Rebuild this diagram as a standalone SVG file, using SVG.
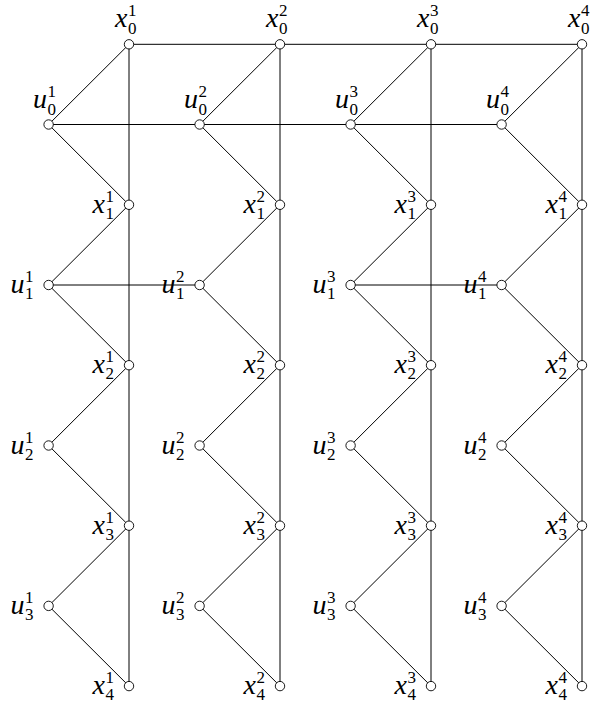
<svg xmlns="http://www.w3.org/2000/svg" width="594" height="704" viewBox="0 0 594 704">
<style>
.e{stroke:#000;stroke-width:1;fill:none}
.n{fill:#fff;stroke:#000;stroke-width:0.9}
</style>
<defs>
<circle id="c" r="4.7" class="n"/>
</defs>
<g id="connectors">
<line class="e" x1="129" y1="44.3" x2="582" y2="44.3"/>
<line class="e" x1="48.6" y1="124.5" x2="501.6" y2="124.5"/>
<line class="e" x1="48.6" y1="285" x2="199.6" y2="285"/>
<line class="e" x1="350.6" y1="285" x2="501.6" y2="285"/>
<line class="e" x1="129" y1="44.3" x2="129" y2="686.1"/>
<line class="e" x1="280" y1="44.3" x2="280" y2="686.1"/>
<line class="e" x1="431" y1="44.3" x2="431" y2="686.1"/>
<line class="e" x1="582" y1="44.3" x2="582" y2="686.1"/>
<polyline class="e" points="129,44.3 48.6,124.5 129,204.8 48.6,285 129,365.2 48.6,445.5 129,525.7 48.6,605.9 129,686.1"/>
<polyline class="e" points="280,44.3 199.6,124.5 280,204.8 199.6,285 280,365.2 199.6,445.5 280,525.7 199.6,605.9 280,686.1"/>
<polyline class="e" points="431,44.3 350.6,124.5 431,204.8 350.6,285 431,365.2 350.6,445.5 431,525.7 350.6,605.9 431,686.1"/>
<polyline class="e" points="582,44.3 501.6,124.5 582,204.8 501.6,285 582,365.2 501.6,445.5 582,525.7 501.6,605.9 582,686.1"/>
</g>
<g id="nodes" font-family="Liberation Serif, serif" fill="#000">
<g id="x0_1"><use href="#c" x="129" y="44.3"/><text font-size="28" font-style="italic" x="127.5" y="27.3" text-anchor="end">x</text><text font-size="17" x="128" y="16.3">1</text><text font-size="17" x="128" y="33.8">0</text></g>
<g id="u0_1"><use href="#c" x="48.6" y="124.5"/><text font-size="28" font-style="italic" x="47.1" y="108" text-anchor="end">u</text><text font-size="17" x="47.6" y="97">1</text><text font-size="17" x="47.6" y="114.5">0</text></g>
<g id="x1_1"><use href="#c" x="129" y="204.8"/><text font-size="28" font-style="italic" x="105" y="212.8" text-anchor="end">x</text><text font-size="17" x="105.5" y="201.8">1</text><text font-size="17" x="105.5" y="219">1</text></g>
<g id="u1_1"><use href="#c" x="48.6" y="285"/><text font-size="28" font-style="italic" x="24.6" y="293" text-anchor="end">u</text><text font-size="17" x="25.1" y="282">1</text><text font-size="17" x="25.1" y="299.2">1</text></g>
<g id="x2_1"><use href="#c" x="129" y="365.2"/><text font-size="28" font-style="italic" x="105" y="373.2" text-anchor="end">x</text><text font-size="17" x="105.5" y="362.2">1</text><text font-size="17" x="105.5" y="379.4">2</text></g>
<g id="u2_1"><use href="#c" x="48.6" y="445.5"/><text font-size="28" font-style="italic" x="24.6" y="453.5" text-anchor="end">u</text><text font-size="17" x="25.1" y="442.5">1</text><text font-size="17" x="25.1" y="459.7">2</text></g>
<g id="x3_1"><use href="#c" x="129" y="525.7"/><text font-size="28" font-style="italic" x="105" y="533.7" text-anchor="end">x</text><text font-size="17" x="105.5" y="522.7">1</text><text font-size="17" x="105.5" y="539.9">3</text></g>
<g id="u3_1"><use href="#c" x="48.6" y="605.9"/><text font-size="28" font-style="italic" x="24.6" y="613.9" text-anchor="end">u</text><text font-size="17" x="25.1" y="602.9">1</text><text font-size="17" x="25.1" y="620.1">3</text></g>
<g id="x4_1"><use href="#c" x="129" y="686.1"/><text font-size="28" font-style="italic" x="105" y="694.1" text-anchor="end">x</text><text font-size="17" x="105.5" y="683.1">1</text><text font-size="17" x="105.5" y="700.3">4</text></g>
<g id="x0_2"><use href="#c" x="280" y="44.3"/><text font-size="28" font-style="italic" x="278.5" y="27.3" text-anchor="end">x</text><text font-size="17" x="279" y="16.3">2</text><text font-size="17" x="279" y="33.8">0</text></g>
<g id="u0_2"><use href="#c" x="199.6" y="124.5"/><text font-size="28" font-style="italic" x="198.1" y="108" text-anchor="end">u</text><text font-size="17" x="198.6" y="97">2</text><text font-size="17" x="198.6" y="114.5">0</text></g>
<g id="x1_2"><use href="#c" x="280" y="204.8"/><text font-size="28" font-style="italic" x="256" y="212.8" text-anchor="end">x</text><text font-size="17" x="256.5" y="201.8">2</text><text font-size="17" x="256.5" y="219">1</text></g>
<g id="u1_2"><use href="#c" x="199.6" y="285"/><text font-size="28" font-style="italic" x="175.6" y="293" text-anchor="end">u</text><text font-size="17" x="176.1" y="282">2</text><text font-size="17" x="176.1" y="299.2">1</text></g>
<g id="x2_2"><use href="#c" x="280" y="365.2"/><text font-size="28" font-style="italic" x="256" y="373.2" text-anchor="end">x</text><text font-size="17" x="256.5" y="362.2">2</text><text font-size="17" x="256.5" y="379.4">2</text></g>
<g id="u2_2"><use href="#c" x="199.6" y="445.5"/><text font-size="28" font-style="italic" x="175.6" y="453.5" text-anchor="end">u</text><text font-size="17" x="176.1" y="442.5">2</text><text font-size="17" x="176.1" y="459.7">2</text></g>
<g id="x3_2"><use href="#c" x="280" y="525.7"/><text font-size="28" font-style="italic" x="256" y="533.7" text-anchor="end">x</text><text font-size="17" x="256.5" y="522.7">2</text><text font-size="17" x="256.5" y="539.9">3</text></g>
<g id="u3_2"><use href="#c" x="199.6" y="605.9"/><text font-size="28" font-style="italic" x="175.6" y="613.9" text-anchor="end">u</text><text font-size="17" x="176.1" y="602.9">2</text><text font-size="17" x="176.1" y="620.1">3</text></g>
<g id="x4_2"><use href="#c" x="280" y="686.1"/><text font-size="28" font-style="italic" x="256" y="694.1" text-anchor="end">x</text><text font-size="17" x="256.5" y="683.1">2</text><text font-size="17" x="256.5" y="700.3">4</text></g>
<g id="x0_3"><use href="#c" x="431" y="44.3"/><text font-size="28" font-style="italic" x="429.5" y="27.3" text-anchor="end">x</text><text font-size="17" x="430" y="16.3">3</text><text font-size="17" x="430" y="33.8">0</text></g>
<g id="u0_3"><use href="#c" x="350.6" y="124.5"/><text font-size="28" font-style="italic" x="349.1" y="108" text-anchor="end">u</text><text font-size="17" x="349.6" y="97">3</text><text font-size="17" x="349.6" y="114.5">0</text></g>
<g id="x1_3"><use href="#c" x="431" y="204.8"/><text font-size="28" font-style="italic" x="407" y="212.8" text-anchor="end">x</text><text font-size="17" x="407.5" y="201.8">3</text><text font-size="17" x="407.5" y="219">1</text></g>
<g id="u1_3"><use href="#c" x="350.6" y="285"/><text font-size="28" font-style="italic" x="326.6" y="293" text-anchor="end">u</text><text font-size="17" x="327.1" y="282">3</text><text font-size="17" x="327.1" y="299.2">1</text></g>
<g id="x2_3"><use href="#c" x="431" y="365.2"/><text font-size="28" font-style="italic" x="407" y="373.2" text-anchor="end">x</text><text font-size="17" x="407.5" y="362.2">3</text><text font-size="17" x="407.5" y="379.4">2</text></g>
<g id="u2_3"><use href="#c" x="350.6" y="445.5"/><text font-size="28" font-style="italic" x="326.6" y="453.5" text-anchor="end">u</text><text font-size="17" x="327.1" y="442.5">3</text><text font-size="17" x="327.1" y="459.7">2</text></g>
<g id="x3_3"><use href="#c" x="431" y="525.7"/><text font-size="28" font-style="italic" x="407" y="533.7" text-anchor="end">x</text><text font-size="17" x="407.5" y="522.7">3</text><text font-size="17" x="407.5" y="539.9">3</text></g>
<g id="u3_3"><use href="#c" x="350.6" y="605.9"/><text font-size="28" font-style="italic" x="326.6" y="613.9" text-anchor="end">u</text><text font-size="17" x="327.1" y="602.9">3</text><text font-size="17" x="327.1" y="620.1">3</text></g>
<g id="x4_3"><use href="#c" x="431" y="686.1"/><text font-size="28" font-style="italic" x="407" y="694.1" text-anchor="end">x</text><text font-size="17" x="407.5" y="683.1">3</text><text font-size="17" x="407.5" y="700.3">4</text></g>
<g id="x0_4"><use href="#c" x="582" y="44.3"/><text font-size="28" font-style="italic" x="580.5" y="27.3" text-anchor="end">x</text><text font-size="17" x="581" y="16.3">4</text><text font-size="17" x="581" y="33.8">0</text></g>
<g id="u0_4"><use href="#c" x="501.6" y="124.5"/><text font-size="28" font-style="italic" x="500.1" y="108" text-anchor="end">u</text><text font-size="17" x="500.6" y="97">4</text><text font-size="17" x="500.6" y="114.5">0</text></g>
<g id="x1_4"><use href="#c" x="582" y="204.8"/><text font-size="28" font-style="italic" x="558" y="212.8" text-anchor="end">x</text><text font-size="17" x="558.5" y="201.8">4</text><text font-size="17" x="558.5" y="219">1</text></g>
<g id="u1_4"><use href="#c" x="501.6" y="285"/><text font-size="28" font-style="italic" x="477.6" y="293" text-anchor="end">u</text><text font-size="17" x="478.1" y="282">4</text><text font-size="17" x="478.1" y="299.2">1</text></g>
<g id="x2_4"><use href="#c" x="582" y="365.2"/><text font-size="28" font-style="italic" x="558" y="373.2" text-anchor="end">x</text><text font-size="17" x="558.5" y="362.2">4</text><text font-size="17" x="558.5" y="379.4">2</text></g>
<g id="u2_4"><use href="#c" x="501.6" y="445.5"/><text font-size="28" font-style="italic" x="477.6" y="453.5" text-anchor="end">u</text><text font-size="17" x="478.1" y="442.5">4</text><text font-size="17" x="478.1" y="459.7">2</text></g>
<g id="x3_4"><use href="#c" x="582" y="525.7"/><text font-size="28" font-style="italic" x="558" y="533.7" text-anchor="end">x</text><text font-size="17" x="558.5" y="522.7">4</text><text font-size="17" x="558.5" y="539.9">3</text></g>
<g id="u3_4"><use href="#c" x="501.6" y="605.9"/><text font-size="28" font-style="italic" x="477.6" y="613.9" text-anchor="end">u</text><text font-size="17" x="478.1" y="602.9">4</text><text font-size="17" x="478.1" y="620.1">3</text></g>
<g id="x4_4"><use href="#c" x="582" y="686.1"/><text font-size="28" font-style="italic" x="558" y="694.1" text-anchor="end">x</text><text font-size="17" x="558.5" y="683.1">4</text><text font-size="17" x="558.5" y="700.3">4</text></g>
</g>
</svg>
